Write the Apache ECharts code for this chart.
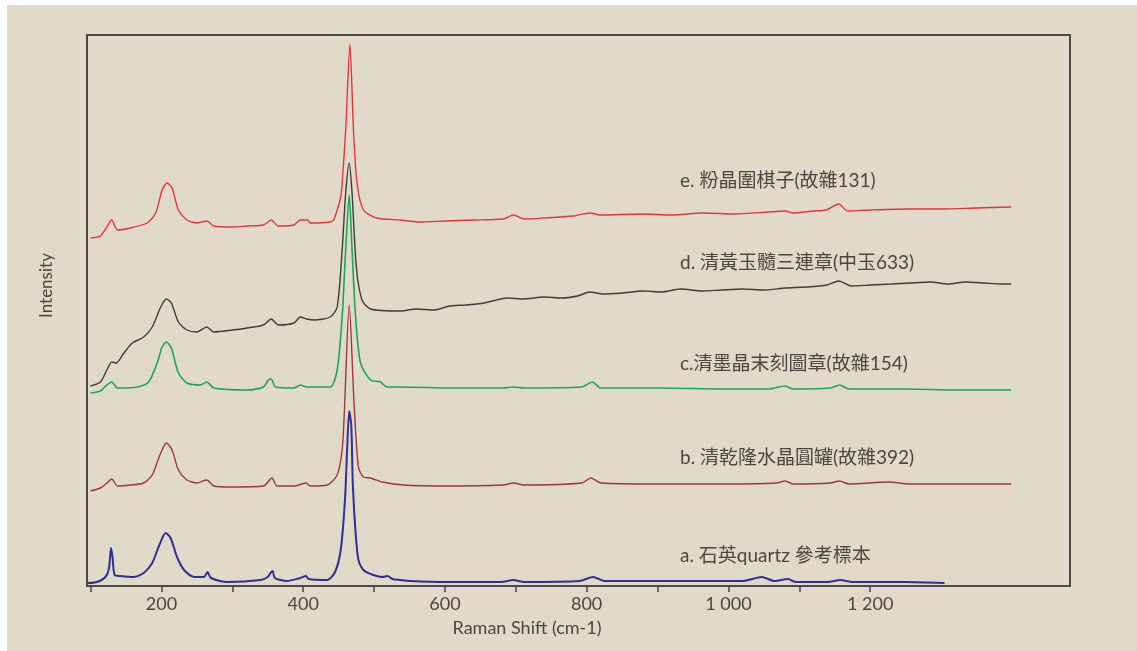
<!DOCTYPE html>
<html>
<head>
<meta charset="utf-8">
<script src="https://cdn.jsdelivr.net/npm/echarts@6/dist/echarts.min.js"></script>
<style>
html,body{margin:0;padding:0;background:#ffffff;}
#bg{position:absolute;left:7px;top:5px;right:0;bottom:0;background:#e1dac9;}
#chart{position:absolute;left:0;top:0;width:1137px;height:651px;}
</style>
</head>
<body>
<div id="bg"></div>
<div id="chart"></div>
<script>
// Raman shift (cm-1) tick values
const tickValues = [100,200,300,400,500,600,700,800,900,1000,1100,1200];
const labelValues = [200,400,600,800,1000,1200];

// Series names
const seriesNames = [
  'e. 粉晶圍棋子(故雜131)',
  'd. 清黃玉髓三連章(中玉633)',
  'c.清墨晶末刻圖章(故雜154)',
  'b. 清乾隆水晶圓罐(故雜392)',
  'a. 石英quartz 參考標本'
];

// [Raman shift, intensity (arbitrary, stacked offsets)]
const specE = [[100,348],[114,350],[123,359],[130,366],[138,356],[156,358],[180,363],[192,373],[201,396],[208,403],[215,398],[224,376],[236,366],[250,363],[264,365],[274,360],[300,359],[321,360],[344,361],[355,366],[365,360],[387,361],[396,366],[406,366],[410,363],[438,364],[443,366],[448,376],[453,389],[455,403],[460,456],[466,542],[471,456],[476,403],[485,376],[504,368],[537,366],[565,364],[600,365],[640,366],[682,367],[697,371],[711,367],[740,368],[781,370],[805,373],[819,371],[880,372],[920,371],[963,373],[1010,372],[1056,374],[1080,375],[1091,373],[1120,375],[1138,376],[1156,382],[1168,375],[1200,376],[1255,377],[1300,377],[1350,378],[1399,379]];

const specD = [[100,200],[114,204],[123,216],[130,224],[136,223],[147,233],[159,243],[175,249],[187,259],[199,279],[207,287],[214,283],[224,264],[236,256],[250,254],[264,259],[274,254],[300,256],[321,258],[344,261],[355,267],[365,261],[387,263],[396,269],[405,267],[415,266],[438,269],[448,279],[455,336],[460,393],[465,423],[469,393],[475,319],[483,286],[495,277],[537,275],[560,277],[585,276],[607,280],[630,281],[655,283],[688,288],[710,287],[740,289],[765,288],[787,290],[805,294],[823,292],[850,293],[880,295],[905,294],[933,297],[963,295],[990,296],[1020,297],[1050,296],[1080,298],[1110,299],[1139,301],[1156,305],[1173,300],[1200,301],[1230,302],[1256,303],[1285,304],[1310,302],[1335,304],[1361,303],[1385,302],[1399,302]];

const specC = [[100,193],[114,195],[123,201],[130,204],[138,198],[166,199],[182,204],[194,223],[201,239],[207,244],[214,238],[224,213],[236,203],[255,201],[264,204],[274,198],[321,196],[344,199],[351,206],[355,207],[361,199],[387,198],[396,201],[405,199],[438,199],[448,216],[455,269],[460,336],[465,391],[469,336],[474,269],[481,223],[495,206],[509,204],[518,199],[537,199],[612,198],[682,198],[697,199],[711,198],[793,199],[808,204],[820,198],[900,198],[1000,197],[1056,197],[1080,200],[1091,197],[1144,198],[1157,201],[1170,197],[1250,197],[1320,196],[1399,196]];

const specB = [[100,95],[114,98],[123,103],[130,107],[138,100],[156,101],[175,103],[187,111],[199,133],[207,143],[215,136],[224,116],[236,106],[250,103],[264,106],[274,100],[297,99],[344,100],[356,108],[363,100],[387,100],[404,103],[410,100],[434,101],[448,111],[455,136],[458,172],[465,281],[472,180],[478,119],[485,109],[495,108],[512,104],[541,101],[600,100],[682,101],[697,103],[711,101],[793,103],[806,108],[820,103],[900,102],[998,102],[1068,103],[1080,105],[1091,102],[1144,103],[1157,105],[1170,102],[1226,104],[1256,102],[1320,102],[1399,102]];

const specA = [[96,3],[109,4],[121,9],[126,18],[129,38],[131,29],[134,11],[142,10],[161,9],[175,13],[187,23],[196,39],[206,53],[213,48],[222,29],[232,16],[246,9],[260,9],[265,14],[270,8],[293,4],[340,6],[350,9],[354,13],[357,15],[360,8],[377,5],[396,8],[404,10],[408,7],[434,6],[445,14],[453,36],[459,86],[462,136],[465,175],[468,159],[470,103],[474,53],[478,26],[485,16],[499,11],[512,9],[519,10],[526,7],[537,6],[551,5],[601,4],[680,4],[696,6],[712,4],[790,5],[809,9],[825,5],[1020,5],[1047,9],[1065,5],[1084,7],[1095,4],[1140,4],[1158,6],[1175,4],[1250,4],[1305,3]];

const colors = ['#e8323a','#3d3d3d','#18a852','#a3343e','#2b3196'];
const specs = [specE, specD, specC, specB, specA];
const widths = [1.4,1.4,1.6,1.4,2];

const textColor = '#4a4642';
const fontFam = 'Lato, "Noto Sans CJK TC", sans-serif';

const chart = echarts.init(document.getElementById('chart'), null, {renderer:'canvas'});

const labelPos = [[680,183],[680,265],[680,366],[680,460],[680,558]];

chart.setOption({
  backgroundColor: 'transparent',
  animation: false,
  grid: {left:87, right:67, top:35, bottom:65, show:true, borderColor:'#4a4744', borderWidth:2, backgroundColor:'transparent'},
  xAxis: {
    type:'value', min:95, max:1482,
    name:'Raman Shift (cm-1)', nameLocation:'middle', nameGap:33,
    nameTextStyle:{color:textColor, fontSize:18, fontFamily:fontFam, padding:[0,103,0,0]},
    axisLine:{show:true, onZero:false, lineStyle:{color:'#4a4744', width:2}},
    axisTick:{show:true, customValues:tickValues, length:6, inside:false, lineStyle:{color:'#4a4744', width:1.5}},
    axisLabel:{customValues:labelValues, color:textColor, fontSize:18, fontFamily:fontFam, margin:9,
      formatter: v => v >= 1000 ? String(v).replace(/(\d)(\d{3})$/, '$1 $2') : String(v)},
    splitLine:{show:false}
  },
  yAxis: {
    type:'value', min:0, max:551,
    name:'Intensity', nameLocation:'middle', nameGap:32, nameRotate:90,
    nameTextStyle:{color:textColor, fontSize:17, fontFamily:fontFam, padding:[0,0,0,50]},
    axisLine:{show:true, lineStyle:{color:'#4a4744', width:2}},
    axisTick:{show:false}, axisLabel:{show:false}, splitLine:{show:false}
  },
  series: specs.map((d,i) => ({
    name: seriesNames[i], type:'line', data:d, showSymbol:false, symbol:'none',
    smooth:0.25,
    lineStyle:{color:colors[i], width:widths[i]}, z: 2+i
  })),
  graphic: seriesNames.map((t,i) => ({
    type:'text', left:labelPos[i][0], top:labelPos[i][1]-12,
    style:{text:t, fill:textColor, font:'19px ' + fontFam}
  }))
});
</script>
</body>
</html>
